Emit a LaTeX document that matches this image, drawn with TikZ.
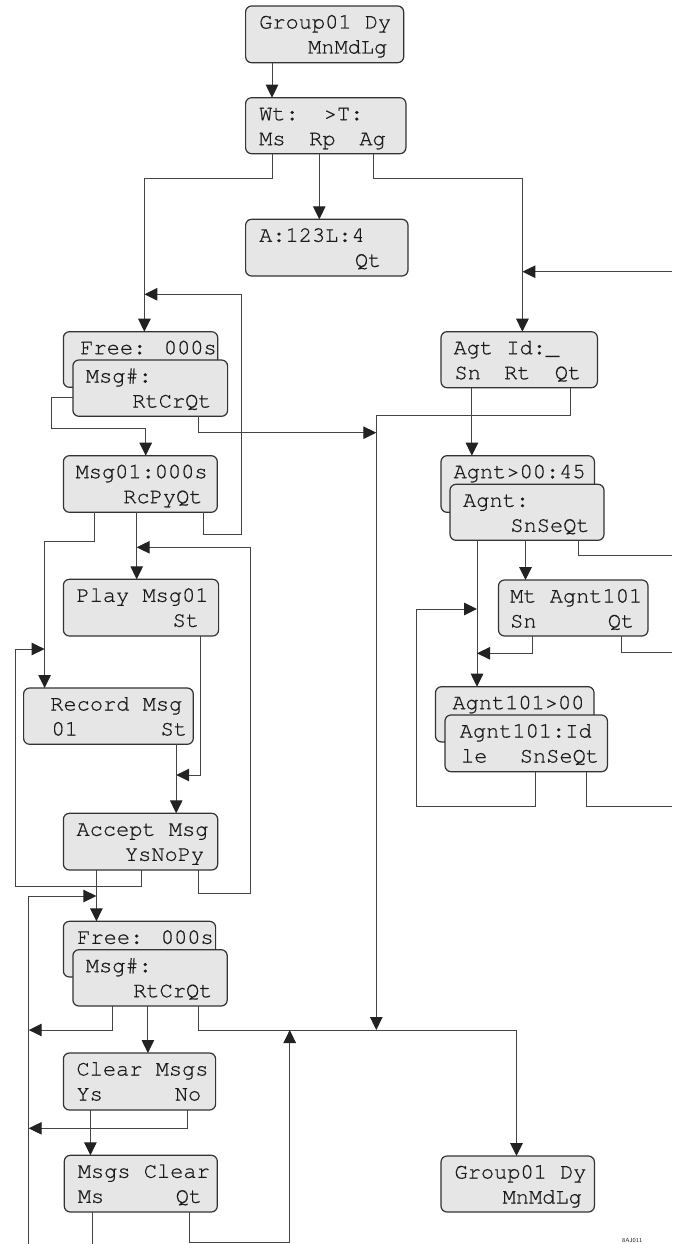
\documentclass[tikz,border=0pt]{standalone}
\usepackage{fontspec}
\newfontfamily\lcdfont[FakeBold=0.6]{TeX Gyre Cursor}
\usetikzlibrary{arrows.meta}
\definecolor{boxfill}{HTML}{E6E6E6}
\definecolor{boxline}{HTML}{333333}
\definecolor{wirecol}{HTML}{444444}
\definecolor{tipcol}{HTML}{222222}
\definecolor{txtcol}{HTML}{1A1A1A}
\begin{document}
\begin{tikzpicture}[x=1pt,y=-1pt,
  lcd/.style={draw=boxline, fill=boxfill, line width=1.2pt, rounded corners=6pt, anchor=north west, inner sep=0pt, outer sep=0pt},
  txt/.style={font=\lcdfont\fontsize{22}{22}\selectfont, text=txtcol, inner sep=0pt, anchor=base west},
  txtr/.style={txt, anchor=base east},
  wire/.style={draw=wirecol, line width=1pt},
  arr/.style={wire, -{Triangle[length=13pt,width=12.5pt,color=tipcol]}},
]
\useasboundingbox (0,0) rectangle (672,1244);
\clip (0,0) rectangle (672,1244);

% ---- boxes ----
\node[lcd, minimum width=158.1pt, minimum height=56.7pt] (b1) at (245.6,6) {};
\node[lcd, minimum width=160.3pt, minimum height=56pt] (b2) at (245.6,97.7) {};
\node[lcd, minimum width=162.4pt, minimum height=56.7pt] (b3) at (245.6,219.3) {};
\node[lcd, minimum width=154.3pt, minimum height=55.6pt] (freeA) at (63.4,331.7) {};
\node[lcd, minimum width=154.7pt, minimum height=56.3pt] (msgA) at (72.9,360) {};
\node[lcd, minimum width=156.4pt, minimum height=56pt] (agt) at (441,331.7) {};
\node[lcd, minimum width=153.9pt, minimum height=56.6pt] (msg01) at (63.4,455.7) {};
\node[lcd, minimum width=153.4pt, minimum height=56.6pt] (agntB) at (441,455.7) {};
\node[lcd, minimum width=154pt, minimum height=56pt] (agntF) at (450,484.3) {};
\node[lcd, minimum width=155.2pt, minimum height=56.7pt] (play) at (63.4,579.3) {};
\node[lcd, minimum width=149.5pt, minimum height=56pt] (mt) at (498.5,580) {};
\node[lcd, minimum width=169.7pt, minimum height=56.3pt] (rec) at (23.6,688) {};
\node[lcd, minimum width=158.5pt, minimum height=55.3pt] (aB) at (435.5,686.7) {};
\node[lcd, minimum width=162.4pt, minimum height=56.7pt] (aF) at (445,715) {};
\node[lcd, minimum width=154.3pt, minimum height=56.7pt] (acc) at (63.4,813.3) {};
\node[lcd, minimum width=152.2pt, minimum height=55.7pt] (freeB) at (63.4,921.3) {};
\node[lcd, minimum width=154.3pt, minimum height=56.3pt] (msgB) at (72.9,949.7) {};
\node[lcd, minimum width=152.2pt, minimum height=57pt] (clr) at (63.4,1053) {};
\node[lcd, minimum width=153pt, minimum height=56.7pt] (mc) at (64.3,1155.3) {};
\node[lcd, minimum width=153.4pt, minimum height=56pt] (g2) at (441,1156) {};

% ---- texts ----
\node[txt] (t1) at (259,28.5) {Group01 Dy};
\node[txtr] (t2) at (387.5,53.5) {MnMdLg};
\node[txt] (t3) at (259,120.2) {Wt:};
\node[txt] (t4) at (323.6,120.2) {>T:};
\node[txt] (t5) at (259,145.2) {Ms};
\node[txt] (t6) at (309,145.2) {Rp};
\node[txt] (t7) at (359.2,145.2) {Ag};
\node[txt] (t8) at (259,241.8) {A:123L:4};
\node[txtr] (t9) at (381.5,266.8) {Qt};
\node[txt] (t10) at (80.1,354.2) {Free: 000s};
\node[txt] (t11) at (85.7,382.5) {Msg\#:};
\node[txtr] (t12) at (211.7,407.5) {RtCrQt};
\node[txt] (t13) at (453.4,354.2) {Agt Id:\char95};
\node[txt] (t14) at (454.3,379.2) {Sn};
\node[txt] (t15) at (504,379.2) {Rt};
\node[txt] (t16) at (554.6,379.2) {Qt};
\node[txt] (t17) at (75.4,478.2) {Msg01:000s};
\node[txtr] (t18) at (202.7,503.2) {RcPyQt};
\node[txt] (t19) at (453.4,478.2) {Agnt>00:45};
\node[txt] (t20) at (462.9,506.8) {Agnt:};
\node[txtr] (t21) at (589.8,531.8) {SnSeQt};
\node[txt] (t22) at (76.3,601.8) {Play Msg01};
\node[txtr] (t23) at (199.3,626.8) {St};
\node[txt] (t24) at (510,602.5) {Mt Agnt101};
\node[txt] (t25) at (510,627.5) {Sn};
\node[txtr] (t26) at (634.4,627.5) {Qt};
\node[txt] (t27) at (50.1,710.5) {Record Msg};
\node[txt] (t28) at (51.4,735.5) {01};
\node[txtr] (t29) at (187.3,735.5) {St};
\node[txt] (t30) at (452.2,709.2) {Agnt101>00};
\node[txt] (t31) at (459.5,737.5) {Agnt101:Id};
\node[txt] (t32) at (460.8,762.5) {le};
\node[txtr] (t33) at (599.2,762.5) {SnSeQt};
\node[txt] (t34) at (76.3,835.8) {Accept Msg};
\node[txtr] (t35) at (204.4,860.8) {YsNoPy};
\node[txt] (t36) at (77.1,943.8) {Free: 000s};
\node[txt] (t37) at (85.7,972.2) {Msg\#:};
\node[txtr] (t38) at (212.6,997.2) {RtCrQt};
\node[txt] (t39) at (76.3,1075.5) {Clear Msgs};
\node[txt] (t40) at (76.3,1100.5) {Ys};
\node[txtr] (t41) at (201.4,1100.5) {No};
\node[txt] (t42) at (77.6,1177.8) {Msgs Clear};
\node[txt] (t43) at (77.6,1202.8) {Ms};
\node[txtr] (t44) at (202.3,1202.8) {Qt};
\node[txt] (t45) at (454.3,1178.5) {Group01 Dy};
\node[txtr] (t46) at (582,1203.5) {MnMdLg};
\node[font=\sffamily\fontsize{6}{6}\selectfont, anchor=south west, inner sep=0pt, text=txtcol] (code) at (622,1243) {8AJ011};

% ---- free-end coordinates ----
\coordinate (eR1) at (672,271.7);
\coordinate (eR2) at (672,555);
\coordinate (eR3) at (672,652);
\coordinate (eR4) at (672,806.7);
\coordinate (eB1) at (28.7,1244);
\coordinate (eB2) at (92.6,1244);

% ---- connectors ----
\draw[arr] (272,0 |- b1.south) -- (272,0 |- b2.north);
\draw[arr] (272.6,0 |- b2.south) -- (272.6,178.7) -- (144.4,178.7) -- (144.4,0 |- freeA.north);
\draw[arr] (319.3,0 |- b2.south) -- (319.3,0 |- b3.north);
\draw[arr] (373.3,0 |- b2.south) -- (373.3,178.7) -- (522.4,178.7) -- (522.4,0 |- agt.north);
\draw[arr] (eR1) -- (522.4,271.7);
\draw[arr] (203.6,0 |- msg01.south) -- (203.6,534.3) -- (241.3,534.3) -- (241.3,294.3) -- (144.4,294.3);
\draw[arr] (msgA.west |- 0,397.7) -- (51.4,397.7) -- (51.4,428.3) -- (145.7,428.3) -- (145.7,0 |- msg01.north);
\draw[arr] (198.9,0 |- msgA.south) -- (198.9,432.7) -- (376.3,432.7);
\draw[arr] (570,0 |- agt.south) -- (570,415) -- (376.3,415) -- (376.3,1030);
\draw[arr] (471.9,0 |- agt.south) -- (471.9,0 |- agntB.north);
\draw[arr] (94.3,0 |- msg01.south) -- (94.3,541) -- (44.6,541) -- (44.6,0 |- rec.north);
\draw[arr] (136.7,0 |- msg01.south) -- (136.7,0 |- play.north);
\draw[arr] (198.4,0 |- acc.south) -- (198.4,893.3) -- (250.3,893.3) -- (250.3,547.3) -- (136.7,547.3);
\draw[arr] (477,0 |- agntF.south) -- (477,0 |- aB.north);
\draw[arr] (525.5,0 |- agntF.south) -- (525.5,0 |- mt.north);
\draw[wire] (578.6,0 |- agntF.south) -- (578.6,555) -- (eR2);
\draw[arr] (532.3,0 |- mt.south) -- (532.3,653.3) -- (477,653.3);
\draw[wire] (621.9,0 |- mt.south) -- (621.9,652) -- (eR3);
\draw[arr] (535.3,0 |- aF.south) -- (535.3,806.7) -- (416.6,806.7) -- (416.6,609) -- (477,609);
\draw[wire] (586.4,0 |- aF.south) -- (586.4,806.7) -- (eR4);
\draw[arr] (200.2,0 |- play.south) -- (200.2,775) -- (176.2,775);
\draw[arr] (176.2,0 |- rec.south) -- (176.2,0 |- acc.north);
\draw[arr] (141.4,0 |- acc.south) -- (141.4,886) -- (15,886) -- (15,649) -- (44.6,649);
\draw[arr] (96.4,0 |- acc.south) -- (96.4,0 |- freeB.north);
\draw[arr] (eB1) -- (28.7,896) -- (96.4,896);
\draw[arr] (112.3,0 |- msgB.south) -- (112.3,1030) -- (28.7,1030);
\draw[arr] (147.9,0 |- msgB.south) -- (147.9,0 |- clr.north);
\draw[arr] (198.9,0 |- msgB.south) -- (198.9,1030) -- (516.5,1030) -- (516.5,0 |- g2.north);
\draw[arr] (90.4,0 |- clr.south) -- (90.4,0 |- mc.north);
\draw[arr] (187.7,0 |- clr.south) -- (187.7,1128.3) -- (28.7,1128.3);
\draw[wire] (92.6,0 |- mc.south) -- (eB2);
\draw[arr] (189.9,0 |- mc.south) -- (189.9,1242.5) -- (289.7,1242.5) -- (289.7,1030);
\end{tikzpicture}
\end{document}
